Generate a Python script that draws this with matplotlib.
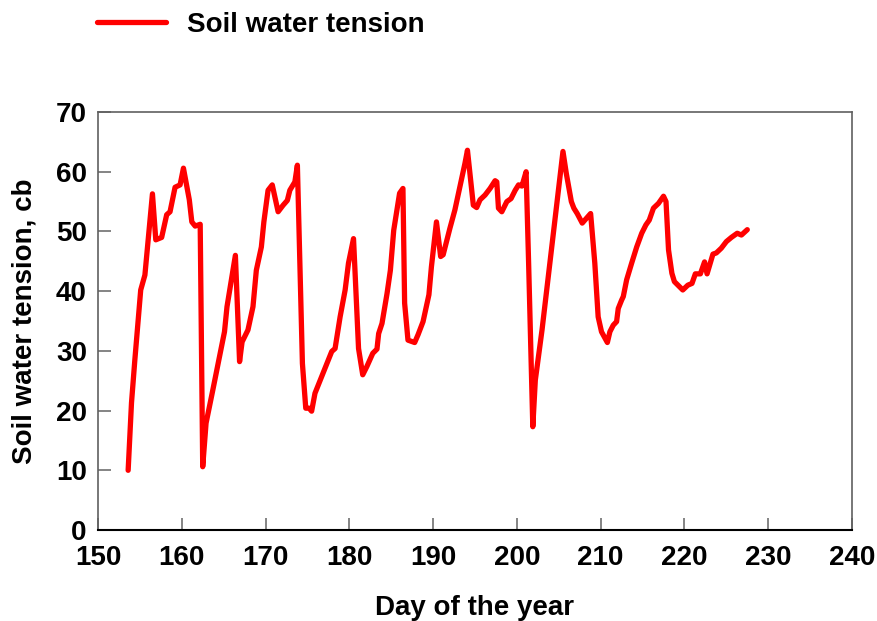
import numpy as np
import matplotlib
matplotlib.use('Agg')
import matplotlib.pyplot as plt

plt.rcParams['font.family'] = ['Liberation Sans', 'DejaVu Sans']
plt.rcParams['font.weight'] = 'bold'

# Day of year and soil water tension (cb)
day = [153.6, 154.0, 154.4, 155.1, 155.6, 156.5, 156.9, 157.6, 158.2, 158.6,
       159.2, 159.8, 160.2, 160.9, 161.2, 161.6, 162.2, 162.5, 162.9, 163.7,
       165.1, 165.4, 166.4, 166.9, 167.2, 167.9, 168.5, 168.9, 169.5, 169.8,
       170.3, 170.8, 171.5, 172.1, 172.6, 172.9, 173.5, 173.8, 174.4, 174.8,
       175.2, 175.5, 175.9, 177.9, 178.3, 178.9, 179.5, 179.9, 180.5, 181.1,
       181.6, 182.1, 182.8, 183.3, 183.5, 183.9, 184.5, 184.9, 185.3, 186.0,
       186.4, 186.6, 187.0, 187.8, 188.2, 188.8, 189.5, 189.8, 190.4, 190.9,
       191.2, 192.0, 192.6, 193.2, 193.8, 194.1, 194.8, 195.2, 195.6, 196.2,
       196.8, 197.4, 197.6, 197.8, 198.2, 198.8, 199.3, 199.8, 200.2, 200.6,
       201.1, 201.4, 201.9, 202.2, 203.0, 203.6, 204.3, 204.9, 205.5, 205.9,
       206.5, 206.8, 207.2, 207.8, 208.3, 208.8, 209.3, 209.7, 210.1, 210.8,
       211.1, 211.5, 211.9, 212.1, 212.5, 212.7, 213.1, 213.7, 214.3, 214.9,
       215.4, 215.8, 216.3, 216.9, 217.5, 217.8, 218.1, 218.5, 218.8, 219.3,
       219.8, 220.4, 220.9, 221.3, 221.9, 222.4, 222.7, 223.4, 223.8, 224.4,
       225.0, 225.6, 226.3, 226.8, 227.5]
tension = [10.0, 21.3, 28.5, 40.2, 42.7, 56.3, 48.6, 49.0, 52.8, 53.3,
           57.4, 57.8, 60.6, 55.3, 51.6, 50.9, 51.2, 10.6, 17.9, 23.4,
           33.2, 37.4, 46.0, 28.2, 31.5, 33.5, 37.4, 43.5, 47.4, 51.6,
           56.9, 57.8, 53.3, 54.4, 55.2, 56.9, 58.3, 61.1, 27.9, 20.4,
           20.4, 19.9, 22.9, 29.9, 30.4, 35.7, 40.2, 44.7, 48.8, 30.4,
           26.0, 27.4, 29.6, 30.3, 32.9, 34.6, 39.6, 43.5, 50.2, 56.4,
           57.2, 38.0, 31.8, 31.4, 32.7, 34.9, 39.4, 44.1, 51.6, 45.8,
           46.1, 50.5, 53.6, 57.5, 61.4, 63.6, 54.4, 54.0, 55.3, 56.1,
           57.2, 58.5, 58.3, 53.9, 53.3, 55.0, 55.5, 56.9, 57.8, 57.6,
           60.0, 44.7, 17.3, 25.1, 33.5, 40.7, 49.1, 56.4, 63.4, 59.7,
           55.0, 53.9, 53.0, 51.4, 52.2, 53.0, 44.7, 35.7, 33.2, 31.4,
           33.2, 34.3, 34.9, 37.1, 38.5, 39.1, 41.9, 44.7, 47.4, 49.7,
           51.1, 51.9, 53.9, 54.7, 55.9, 55.0, 46.9, 43.0, 41.6, 40.9,
           40.2, 41.0, 41.3, 42.9, 42.9, 44.9, 42.9, 46.2, 46.4, 47.2,
           48.3, 49.0, 49.7, 49.4, 50.3]

x_ticks = [150, 160, 170, 180, 190, 200, 210, 220, 230, 240]
y_ticks = [0, 10, 20, 30, 40, 50, 60, 70]

fig = plt.figure(figsize=(8.78, 6.21), dpi=100)
ax = fig.add_axes([0.1116, 0.1465, 0.8588, 0.6731])

line, = ax.plot(day, tension, color='#ff0000', linewidth=3.8,
                solid_joinstyle='round', solid_capstyle='round',
                label='Soil water tension')

ax.set_xlim(150, 240)
ax.set_ylim(0, 70)
ax.set_xticks(x_ticks)
ax.set_yticks(y_ticks)
ax.tick_params(direction='in', length=9, width=1.2, color='#707070',
               labelsize=20)
ax.tick_params(axis='x', pad=11)
ax.tick_params(axis='y', pad=8)
ax.spines['bottom'].set_linewidth(1.5)
ax.spines['bottom'].set_color('black')
for side in ['left', 'top', 'right']:
    ax.spines[side].set_linewidth(1.2)
    ax.spines[side].set_color('#606060')

ax.set_xlabel('Day of the year', fontsize=20, fontweight='bold', labelpad=17)
ax.set_ylabel('Soil water tension, cb', fontsize=20, fontweight='bold', labelpad=13)

fig.legend(handles=[line], loc='upper left', bbox_to_anchor=(91 / 878, 1 - 6 / 621),
           frameon=False, handlelength=2.5, handletextpad=0.75,
           borderpad=0.2, borderaxespad=0,
           prop={'weight': 'bold', 'size': 20})

fig.savefig('out.png', dpi=100)
